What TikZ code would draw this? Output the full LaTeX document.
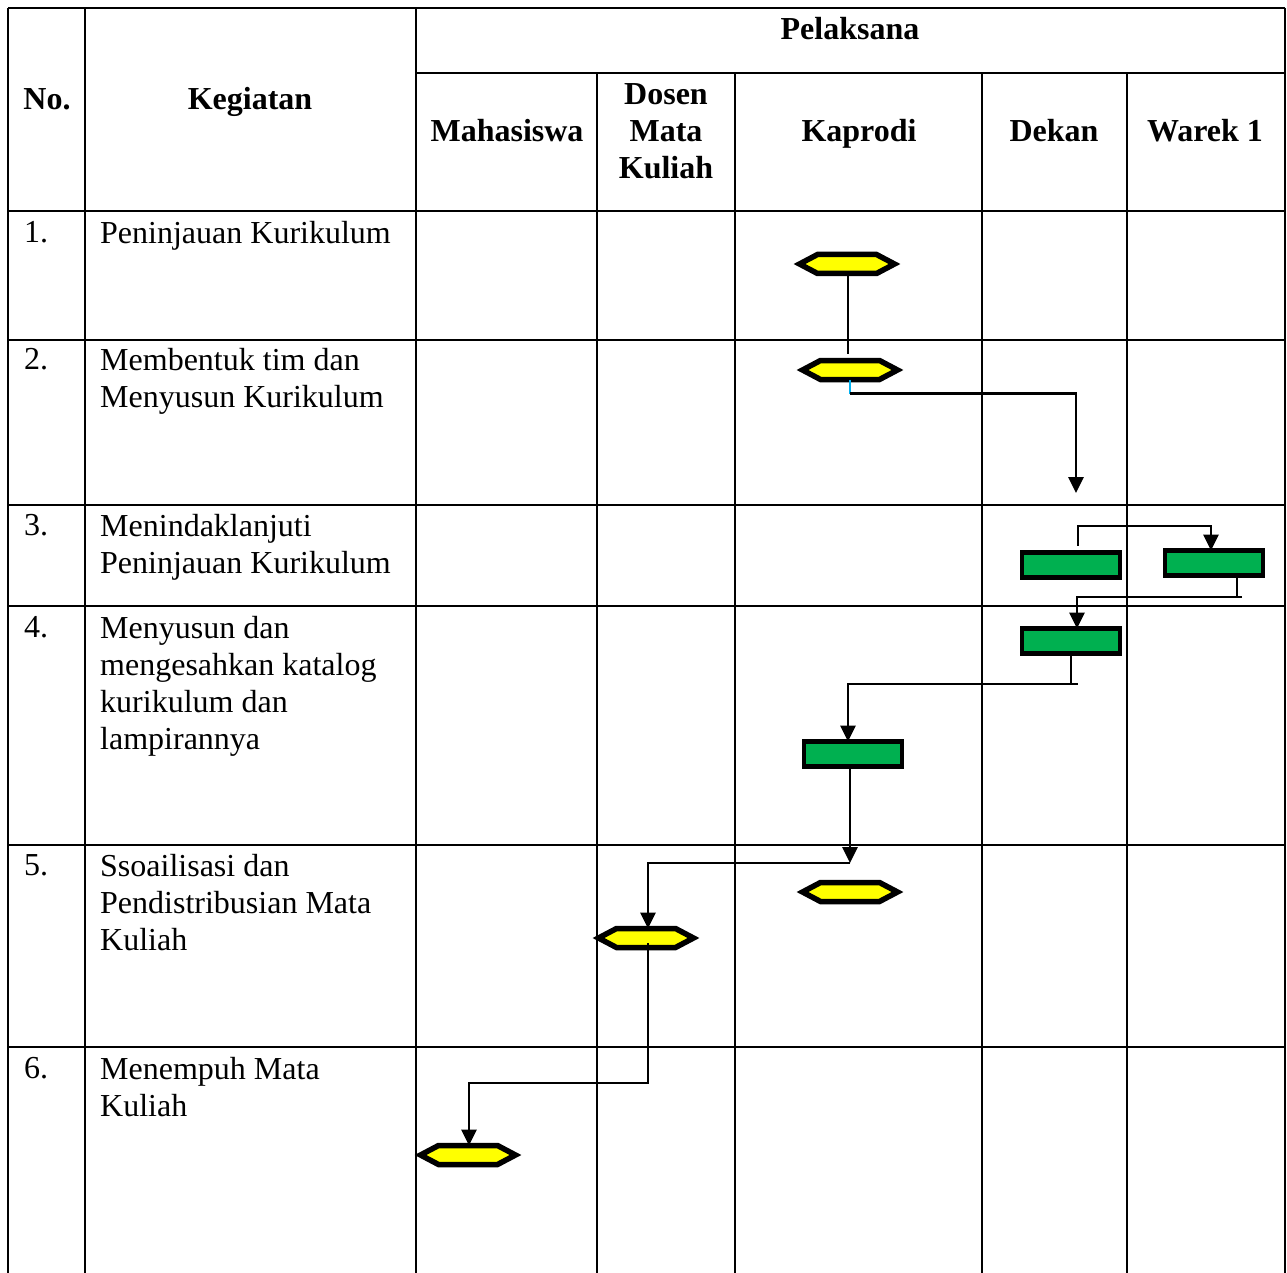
\documentclass[tikz,border=0pt]{standalone}
\usepackage{fontspec}
\setmainfont{Liberation Serif}
\usetikzlibrary{arrows.meta,calc}
\definecolor{hexyellow}{RGB}{255,255,0}
\definecolor{boxgreen}{RGB}{0,176,80}
\definecolor{linkcyan}{RGB}{0,176,240}
\tikzset{
  gridline/.style={line width=1.6pt},
  txt/.style={font=\fontsize{32}{37}\selectfont, inner sep=0pt, align=left, anchor=north west},
  hd/.style={font=\fontsize{32}{37}\selectfont\bfseries, inner sep=0pt, align=center},
  hdb/.style={hd, anchor=base},
  hexnode/.style={minimum width=95pt, minimum height=19pt, inner sep=0pt, outer sep=0pt},
  hexline/.style={draw=black, line width=5.5pt, fill=hexyellow, line join=miter},
  gbox/.style={draw=black, line width=4.5pt, fill=boxgreen, minimum width=98pt, minimum height=25pt, inner sep=0pt, outer sep=0pt},
  conn/.style={line width=2.8pt},
  arr/.style={conn, -{Triangle[length=16pt,width=15pt]}},
}
\newcommand{\hexdraw}[1]{%
  \draw[hexline] (#1.west) -- ([xshift=18pt]#1.north west) -- ([xshift=-18pt]#1.north east) -- (#1.east) -- ([xshift=-18pt]#1.south east) -- ([xshift=18pt]#1.south west) -- cycle;}
\begin{document}
\begin{tikzpicture}[x=1pt,y=-1pt]
\useasboundingbox (0,0) rectangle (1287,1273);
% grid
\draw[gridline] (8,8) -- (1285,8);
\draw[gridline] (416,73) -- (1285,73);
\foreach \yy in {211,340,505,606,845,1047} \draw[gridline] (8,\yy) -- (1285,\yy);
\foreach \xx in {8,85,416,1285} \draw[gridline] (\xx,8) -- (\xx,1273);
\foreach \xx in {597,735,982,1127} \draw[gridline] (\xx,73) -- (\xx,1273);
% headers
\node[hdb] (hno) at (47,110) {No.};
\node[hdb] (hkeg) at (250,110) {Kegiatan};
\node[hdb] (hpel) at (850,40) {Pelaksana};
\node[hdb] (hmhs) at (507,142) {Mahasiswa};
\node[hd] (hdos) at (666,131) {Dosen\\Mata\\Kuliah};
\node[hdb] (hkap) at (859,142) {Kaprodi};
\node[hdb] (hdek) at (1054,142) {Dekan};
\node[hdb] (hwar) at (1205,142) {Warek 1};
% row numbers
\node[txt] (n1) at (24,221) {1.};
\node[txt] (n2) at (24,348) {2.};
\node[txt] (n3) at (24,514) {3.};
\node[txt] (n4) at (24,616) {4.};
\node[txt] (n5) at (24,854) {5.};
\node[txt] (n6) at (24,1057) {6.};
% activities
\node[txt] (k1) at (100,221) {Peninjauan Kurikulum};
\node[txt] (k2) at (100,348) {Membentuk tim dan\\Menyusun Kurikulum};
\node[txt] (k3) at (100,514) {Menindaklanjuti\\Peninjauan Kurikulum};
\node[txt] (k4) at (100,616) {Menyusun dan\\mengesahkan katalog\\kurikulum dan\\lampirannya};
\node[txt] (k5) at (100,854) {Ssoailisasi dan\\Pendistribusian Mata\\Kuliah};
\node[txt] (k6) at (100,1057) {Menempuh Mata\\Kuliah};
% shapes
\node[hexnode] (h1) at (847,264) {};
\node[hexnode] (h2) at (850,370) {};
\node[hexnode] (h5a) at (850,892) {};
\node[hexnode] (h5b) at (646,938) {};
\node[hexnode] (h6) at (468,1155) {};
\hexdraw{h1}\hexdraw{h2}\hexdraw{h5a}\hexdraw{h5b}\hexdraw{h6}
\node[gbox] (g1) at (1071,565) {};
\node[gbox] (g2) at (1214,563) {};
\node[gbox] (g3) at (1071,641) {};
\node[gbox] (g4) at (853,754) {};
% connectors
\coordinate (d2) at (1076,493);
\coordinate (c5) at (850,863);
\draw[conn, shorten >=7pt] ([xshift=1pt]h1.south) -- ([xshift=-2pt]h2.north);
\draw[conn, linkcyan] (h2.south) -- ++(0,14) coordinate (c2);
\draw[arr] (c2) -| (d2);
\draw[arr] ([xshift=7pt,yshift=7pt]g1.north) |- (1150,526) -| ([xshift=-3pt]g2.north);
\draw[conn] ([xshift=23pt]g2.south) |- (1242,597);
\draw[arr] (1242,597) -| ([xshift=6pt]g3.north);
\draw[conn] (g3.south) |- (1078,684);
\draw[arr] (1071,684) -| ([xshift=-5pt]g4.north);
\draw[arr] ([xshift=-3pt]g4.south) -- (c5);
\draw[arr] (c5) -| ([xshift=2pt]h5b.north);
\draw[arr] ([xshift=2pt,yshift=-5pt]h5b.center) |- (560,1083) -| ([xshift=1pt]h6.north);
\end{tikzpicture}
\end{document}
